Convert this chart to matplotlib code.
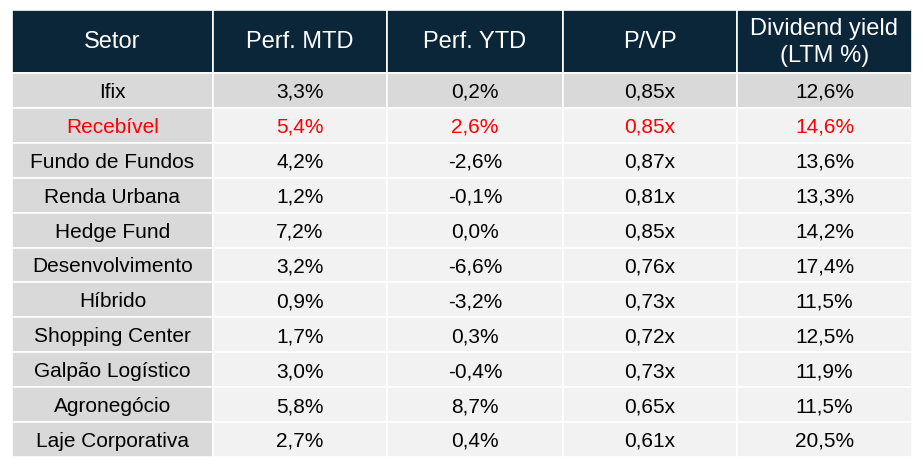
import matplotlib.pyplot as plt
from matplotlib.patches import Rectangle

plt.rcParams['font.family'] = ['Liberation Sans', 'DejaVu Sans']

colunas = ["Setor", "Perf. MTD", "Perf. YTD", "P/VP", "Dividend yield\n(LTM %)"]
setores = ["Ifix", "Recebível", "Fundo de Fundos", "Renda Urbana", "Hedge Fund",
           "Desenvolvimento", "Híbrido", "Shopping Center", "Galpão Logístico",
           "Agronegócio", "Laje Corporativa"]
perf_mtd = ["3,3%", "5,4%", "4,2%", "1,2%", "7,2%", "3,2%", "0,9%", "1,7%", "3,0%", "5,8%", "2,7%"]
perf_ytd = ["0,2%", "2,6%", "-2,6%", "-0,1%", "0,0%", "-6,6%", "-3,2%", "0,3%", "-0,4%", "8,7%", "0,4%"]
p_vp = ["0,85x", "0,85x", "0,87x", "0,81x", "0,85x", "0,76x", "0,73x", "0,72x", "0,73x", "0,65x", "0,61x"]
div_yield = ["12,6%", "14,6%", "13,6%", "13,3%", "14,2%", "17,4%", "11,5%", "12,5%", "11,9%", "11,5%", "20,5%"]

# layout (pixels)
x_bordas = [12, 213, 387, 563, 737, 912]
y_topo = 10
h_cab = 63
h_linha = 34.9

azul = "#0b2539"
cinza = "#d9d9d9"
claro = "#f2f2f2"
vermelho = "#ff0000"

fig = plt.figure(figsize=(9.23, 4.70), dpi=100)
ax = fig.add_axes([0, 0, 1, 1])
ax.set_xlim(0, 923)
ax.set_ylim(470, 0)
ax.axis("off")

# cabecalho
for j, titulo in enumerate(colunas):
    x0, x1 = x_bordas[j], x_bordas[j + 1]
    ax.add_patch(Rectangle((x0, y_topo), x1 - x0, h_cab, facecolor=azul,
                           edgecolor="white", linewidth=1.2))
    ax.text((x0 + x1) / 2, y_topo + h_cab / 2 + 1, titulo, color="white",
            ha="center", va="center", fontsize=17, linespacing=1.25)

linhas = list(zip(setores, perf_mtd, perf_ytd, p_vp, div_yield))
for i, linha in enumerate(linhas):
    y0 = y_topo + h_cab + i * h_linha
    for j, valor in enumerate(linha):
        x0, x1 = x_bordas[j], x_bordas[j + 1]
        cor_fundo = cinza if (j == 0 or i == 0) else claro
        ax.add_patch(Rectangle((x0, y0), x1 - x0, h_linha, facecolor=cor_fundo,
                               edgecolor="white", linewidth=1.2))
        cor_txt = vermelho if setores[i] == "Recebível" else "black"
        ax.text((x0 + x1) / 2, y0 + h_linha / 2 + 2, valor, color=cor_txt,
                ha="center", va="center", fontsize=15)

plt.savefig("out.png", dpi=100)
